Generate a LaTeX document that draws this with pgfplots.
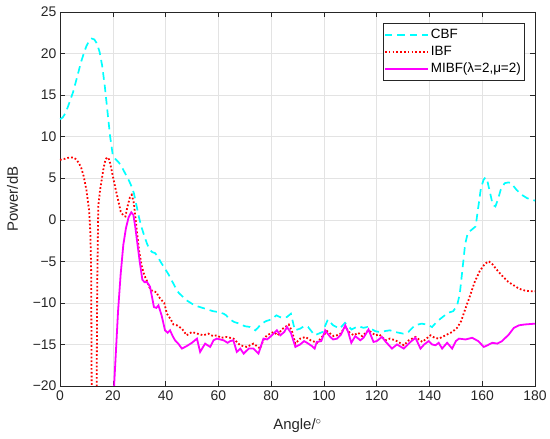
\documentclass[border=0pt]{standalone}
\usepackage{fontspec}
\setmainfont{Liberation Sans}
\usepackage{pgfplots}
\pgfplotsset{compat=1.18}
\definecolor{axgray}{gray}{0.15}
\definecolor{cbfc}{rgb}{0,1,1}
\definecolor{ibfc}{rgb}{1,0,0}
\definecolor{mibfc}{rgb}{1,0,1}
\begin{document}
\begin{tikzpicture}[x=1bp,y=1bp]
\begin{axis}[
  at={(0,0)}, anchor=south west,
  scale only axis, width=475bp, height=374bp,
  xmin=0, xmax=180, ymin=-20, ymax=25,
  xtick={0,20,...,180}, ytick={-20,-15,...,25},
  yticklabels={−20,−15,−10,−5,0,5,10,15,20,25},
  /pgf/number format/assume math mode=true,
  tick align=inside, tick pos=both,
  major tick length=5bp,
  every tick/.style={axgray, line width=0.5pt},
  axis line style={axgray, line width=0.6pt},
  grid=major,
  grid style={gray!22, line width=0.5pt},
  ticklabel style={font=\fontsize{14}{16}\selectfont, text=axgray},
  xticklabel style={yshift=-1bp},
  xlabel={Angle/$^{\circ}$},
  ylabel={Power/dB},
  label style={font=\fontsize{15}{18}\selectfont, text=axgray},
  xlabel style={at={(axis description cs:0.5,0)}, anchor=base, yshift=-44bp},
  ylabel style={at={(axis description cs:0,0.5)}, anchor=base, yshift=42bp},
  legend style={at={(1,1)}, anchor=north east, xshift=-11bp, yshift=-11bp,
    font=\fontsize{13.5}{16}\selectfont, draw=axgray,
    inner xsep=1bp, inner ysep=3bp, row sep=0bp,
    nodes={text height=11bp, text depth=4bp, inner ysep=1bp}},
  legend cell align=left,
  legend image code/.code={\draw[#1] (0bp,0bp) -- (43bp,0bp);},
  clip=true,
]
\addplot[cbfc, line width=1.7pt, dash pattern=on 7.5bp off 5bp] coordinates {
(0,12.1) (1,12.3) (2,12.8) (3,13.6) (4,14.5) (5,15.4) (6,16.6) (7,17.8) (8,19.0) (9,20.0) (10,20.9) (11,21.5) (12,21.8) (13,21.7) (14,21.2) (15,20.2) (16,18.5) (17,16.0) (18,13.0) (19,10.0) (20,7.8) (21,7.3) (22,7.0) (23,6.6) (24,6.0) (25,5.4) (26,4.8) (27,4.1) (28,3.2) (29,1.7) (30,0.2) (31,-1.0) (32,-2.0) (33,-2.9) (34,-3.6) (35,-3.9) (36,-4.0) (37,-4.4) (38,-5.0) (39,-5.5) (40,-6.0) (41,-6.5) (42,-7.1) (43,-7.7) (44,-8.3) (45,-8.8) (46,-9.1) (47,-9.4) (48,-9.7) (49,-9.9) (50,-10.1) (52,-10.4) (54,-10.6) (56,-10.8) (58,-11.0) (60,-11.1) (62,-11.3) (63,-11.5) (64,-11.9) (66,-12.3) (68,-12.5) (70,-12.8) (72,-12.9) (74,-13.3) (75,-13.0) (76,-12.6) (78,-12.2) (80,-12.0) (82,-11.5) (84,-11.8) (86,-11.7) (87.5,-11.3) (89,-13.3) (91,-13.1) (92.5,-12.8) (94,-12.9) (96.5,-13.9) (98,-13.7) (99.5,-13.5) (101.5,-12.0) (103.5,-12.7) (106,-13.1) (108,-12.4) (110.5,-13.2) (113,-12.8) (115,-13.0) (116.5,-12.9) (119.5,-13.4) (121,-13.5) (123,-13.4) (125,-13.3) (127,-13.5) (130,-13.7) (132,-13.5) (134.5,-12.7) (137,-12.5) (139,-12.6) (141,-12.9) (143,-12.2) (145,-11.7) (147,-11.2) (149,-11.0) (150.5,-10.3) (151.5,-8.9) (152.5,-6.0) (153.5,-3.0) (154.5,-1.6) (156,-1.2) (157.5,-0.8) (158.5,1.5) (159.5,3.8) (160.5,4.8) (161.2,5.1) (162,4.6) (163,3.2) (164,1.8) (165,1.6) (166,2.5) (167,3.6) (168.5,4.4) (170,4.5) (171,4.4) (173,3.6) (175,3.0) (177,2.6) (179,2.4) (180,2.3)
};
\addlegendentry{CBF}
\addplot[ibfc, line width=1.8pt, dash pattern=on 1.7bp off 2.1bp] coordinates {
(0,7.2) (1,7.3) (2,7.35) (3,7.45) (4,7.5) (5,7.5) (6,7.3) (7,6.9) (8,6.3) (9,5.2) (10,3.6) (11,1.2) (11.5,-1.5) (11.8,-6) (12.0,-20) (12.3,-30) (13.0,-45) (13.6,-30) (13.9,-20) (14.1,-8) (14.5,1.6) (15.2,3.6) (15.8,4.8) (16.5,6.2) (17.2,7.2) (17.8,7.5) (18.4,7.4) (19,6.8) (20,5.3) (21,3.8) (22,2.4) (23,1.0) (24,0.5) (24.8,0.4) (25.5,1.5) (26.5,2.7) (27.2,3.0) (28,2.0) (29,-1.0) (30,-3.8) (31,-5.6) (32,-6.7) (33,-7.4) (34,-8.2) (35,-8.6) (36.5,-8.7) (37.5,-9.3) (38.6,-9.7) (39.5,-10.0) (40.5,-11.3) (42,-12.0) (43,-12.6) (44.3,-12.7) (46.2,-13.1) (48,-13.9) (50,-13.5) (52,-13.7) (54.3,-13.9) (56.2,-13.7) (58,-14.0) (59.4,-13.9) (61,-14.2) (63.2,-14.1) (65.7,-14.3) (67,-14.7) (68.3,-15.1) (70.8,-15.3) (73.3,-14.9) (75.9,-15.5) (77,-14.5) (78.4,-13.9) (81,-13.5) (82.5,-13.9) (84,-13.2) (86.7,-12.6) (88,-13.5) (89.2,-14.9) (91,-14.3) (93,-14.1) (95,-14.5) (97.4,-14.8) (99,-14.2) (101.2,-13.4) (103.7,-14.0) (106,-13.8) (108.1,-12.9) (109.5,-13.5) (111.3,-13.9) (113,-13.6) (114.5,-14.0) (116.9,-13.3) (119.5,-13.9) (121,-13.8) (123.3,-14.5) (125,-14.3) (127.1,-14.5) (130.3,-15.1) (132.2,-14.5) (134.7,-14.1) (137.3,-14.7) (140.4,-13.9) (142,-14.2) (143.6,-14.3) (146.1,-13.9) (148.6,-13.5) (150.5,-13.0) (152,-12.2) (153.5,-10.8) (155,-9.5) (157,-7.6) (159,-6.2) (161,-5.3) (162.5,-5.0) (164,-5.4) (166,-6.2) (168,-6.9) (170,-7.5) (172,-7.9) (174,-8.3) (176,-8.5) (178,-8.6) (180,-8.6)
};
\addlegendentry{IBF}
\addplot[mibfc, line width=1.8pt] coordinates {
(19.5,-25) (20.5,-20) (21,-17) (22,-11) (23,-6.5) (24,-3.0) (25,-1.0) (26,0.3) (27,0.9) (27.8,0.6) (28.5,-0.8) (29.3,-2.8) (30.2,-5.0) (31.2,-7.2) (32,-7.5) (33,-7.5) (34.1,-8.05) (35,-9.5) (35.6,-10.5) (36.5,-10.6) (37.3,-10.3) (38.5,-11.5) (39.8,-13.3) (40.8,-13.6) (41.7,-13.3) (42.7,-14.0) (43.6,-14.5) (44.8,-14.9) (46.2,-15.5) (48,-15.2) (50,-14.8) (51.9,-14.3) (53.1,-15.9) (55,-14.9) (56.9,-15.3) (58.2,-14.5) (59.4,-14.3) (62,-14.5) (63.5,-14.8) (64.5,-14.6) (65.7,-14.5) (67,-15.9) (68.3,-15.5) (69.6,-16.1) (71.5,-15.5) (73.3,-15.5) (75.2,-16.1) (77.1,-14.3) (78.5,-14.4) (80.3,-13.9) (82.2,-13.3) (83.5,-13.9) (85,-13.5) (86,-12.9) (87.5,-13.6) (89.2,-15.3) (91,-15.0) (92.5,-14.6) (93.6,-14.8) (95.5,-15.2) (96.5,-15.5) (97.3,-14.7) (99,-14.6) (100.5,-13.3) (102.4,-14.1) (103.5,-14.4) (105,-14.3) (106.5,-13.8) (108.1,-12.7) (109.2,-13.5) (110.4,-14.8) (111.9,-14.0) (113.8,-14.5) (115,-14.2) (116.9,-13.2) (118.8,-14.7) (120,-14.6) (122,-14.1) (123.5,-14.7) (125.8,-15.5) (127.7,-15.0) (130.3,-15.5) (132.8,-14.7) (134.7,-14.2) (136.6,-15.5) (138,-15.0) (139.7,-14.6) (141,-15.0) (142.3,-15.1) (143.5,-14.8) (144.8,-15.5) (146.7,-14.8) (148.6,-15.5) (150,-14.6) (151.2,-14.3) (153.7,-14.4) (156.2,-14.2) (158.5,-14.6) (160.6,-15.3) (162,-15.1) (163.8,-14.8) (165.7,-14.9) (167.5,-14.6) (170.1,-13.8) (172,-13.0) (173.9,-12.7) (176,-12.6) (180,-12.5)
};
\addlegendentry{MIBF(λ=2,μ=2)}
\end{axis}
\pgfresetboundingbox
\path (-60bp,-53bp) rectangle (490bp,386bp);
\end{tikzpicture}
\end{document}
